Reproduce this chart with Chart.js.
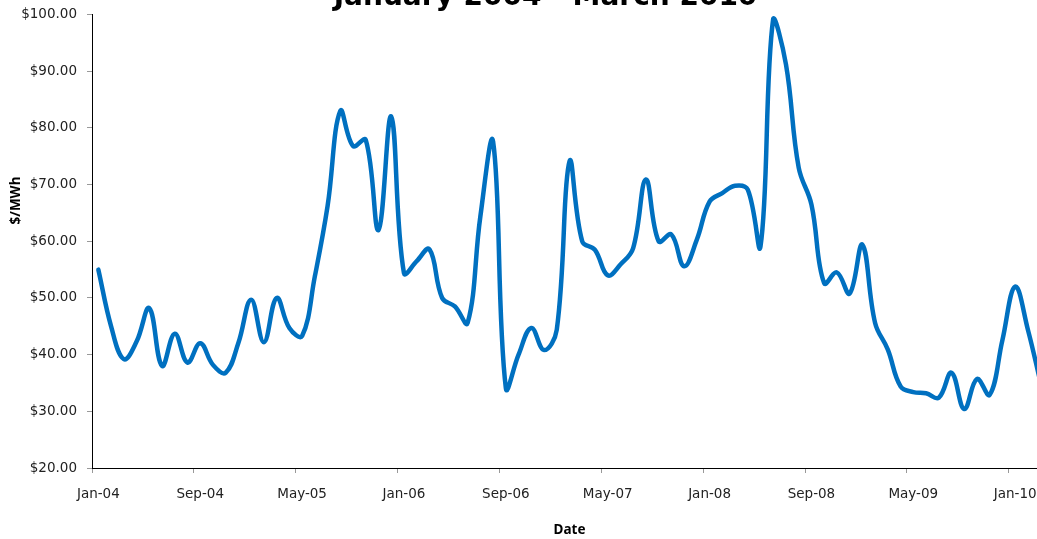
<!DOCTYPE html>
<html>
<head>
<meta charset="utf-8">
<title>Monthly price, January 2004 - March 2010</title>
<script src="https://cdn.jsdelivr.net/npm/chart.js@4/dist/chart.umd.min.js"></script>
<style>
  html, body { margin: 0; padding: 0; background: #fff; overflow: hidden; }
  /* the chart is a bit larger than the window: title runs off the top, last month off the right */
  #wrap { position: absolute; left: 0; top: -19px; width: 1091px; height: 559px; }
</style>
</head>
<body>
<div id="wrap"><canvas id="priceChart"></canvas></div>
<script>
// months on the x axis
const months = [
  'Jan-04', 'Feb-04', 'Mar-04', 'Apr-04', 'May-04', 'Jun-04', 'Jul-04', 'Aug-04', 'Sep-04', 'Oct-04', 'Nov-04', 'Dec-04',
  'Jan-05', 'Feb-05', 'Mar-05', 'Apr-05', 'May-05', 'Jun-05', 'Jul-05', 'Aug-05', 'Sep-05', 'Oct-05', 'Nov-05', 'Dec-05',
  'Jan-06', 'Feb-06', 'Mar-06', 'Apr-06', 'May-06', 'Jun-06', 'Jul-06', 'Aug-06', 'Sep-06', 'Oct-06', 'Nov-06', 'Dec-06',
  'Jan-07', 'Feb-07', 'Mar-07', 'Apr-07', 'May-07', 'Jun-07', 'Jul-07', 'Aug-07', 'Sep-07', 'Oct-07', 'Nov-07', 'Dec-07',
  'Jan-08', 'Feb-08', 'Mar-08', 'Apr-08', 'May-08', 'Jun-08', 'Jul-08', 'Aug-08', 'Sep-08', 'Oct-08', 'Nov-08', 'Dec-08',
  'Jan-09', 'Feb-09', 'Mar-09', 'Apr-09', 'May-09', 'Jun-09', 'Jul-09', 'Aug-09', 'Sep-09', 'Oct-09', 'Nov-09', 'Dec-09',
  'Jan-10', 'Feb-10', 'Mar-10'
];

// average price, $/MWh
const prices = [
  55.0, 45.0, 39.2, 42.3, 48.2, 38.0, 43.7, 38.6, 42.0, 38.2, 36.8, 42.1,
  49.7, 42.2, 50.0, 44.7, 43.3, 53.8, 66.2, 83.0, 76.8, 77.9, 62.0, 82.0,
  54.4, 56.5, 58.6, 50.0, 48.5, 45.6, 64.4, 77.6, 34.1, 40.0, 44.7, 40.8,
  44.4, 74.1, 60.0, 58.5, 54.0, 55.9, 58.8, 70.9, 60.0, 61.2, 55.6, 60.3,
  67.0, 68.5, 69.8, 69.1, 59.1, 99.3, 91.2, 73.0, 66.5, 52.6, 54.5, 50.8,
  59.4, 45.6, 40.9, 34.4, 33.4, 33.2, 32.4, 36.8, 30.4, 35.7, 32.9, 42.6,
  52.0, 44.4, 35.0
];

// y axis range and a month label every 8 months
const yTicks = { min: 20, max: 100, step: 10 };
const labelEvery = 8;

const chartTitle = 'January 2004 - March 2010';
const xTitle = 'Date';
const yTitle = '$/MWh';

const tickFont = { family: 'DejaVu Sans', size: 13.5 };
const titleFont = { family: 'Noto Sans', size: 13.5, weight: 'bold' };

// y axis title sits a little above the middle of the plot
const yTitlePlugin = {
  id: 'yTitle',
  afterDraw(chart) {
    const { ctx, chartArea } = chart;
    ctx.save();
    ctx.translate(16, chartArea.top + (chartArea.bottom - chartArea.top) * 0.41);
    ctx.rotate(-Math.PI / 2);
    ctx.font = 'bold 13.5px "Noto Sans"';
    ctx.fillStyle = '#000';
    ctx.textAlign = 'center';
    ctx.textBaseline = 'middle';
    ctx.fillText(yTitle, 0, 0);
    ctx.restore();
  }
};

const ctx = document.getElementById('priceChart').getContext('2d');
new Chart(ctx, {
  type: 'line',
  data: {
    labels: months,
    datasets: [{
      data: prices,
      borderColor: '#0070C0',
      borderWidth: 4.5,
      borderCapStyle: 'round',
      borderJoinStyle: 'round',
      pointRadius: 0,
      tension: 0.4,
      fill: false
    }]
  },
  options: {
    responsive: true,
    maintainAspectRatio: false,
    animation: false,
    layout: { padding: 0 },
    plugins: {
      legend: { display: false },
      tooltip: { enabled: false },
      title: {
        display: true,
        text: chartTitle,
        color: '#000',
        font: { family: 'DejaVu Sans', size: 28, weight: 'bold' },
        padding: { top: 0, bottom: 0 }
      }
    },
    scales: {
      x: {
        type: 'category',
        offset: true,
        grid: {
          offset: true,
          drawOnChartArea: false,
          tickLength: 5,
          color: c => (c.index % labelEvery === 0 ? '#999' : 'transparent')
        },
        border: { display: true, color: '#000', width: 1 },
        ticks: {
          autoSkip: false,
          maxRotation: 0,
          minRotation: 0,
          padding: 13,
          color: '#222',
          font: tickFont,
          callback: function (value, index) {
            return index % labelEvery === 0 ? this.getLabelForValue(value) : '';
          }
        },
        title: {
          display: true,
          text: xTitle,
          color: '#000',
          font: titleFont,
          padding: { top: 0, bottom: 2 }
        },
        afterFit(scale) { scale.height = 72; }
      },
      y: {
        min: yTicks.min,
        max: yTicks.max,
        grid: { drawOnChartArea: false, tickLength: 5, color: '#999' },
        border: { display: true, color: '#000', width: 1 },
        ticks: {
          stepSize: yTicks.step,
          padding: 10,
          color: '#222',
          font: tickFont,
          callback: v => '$' + v.toFixed(2)
        },
        afterFit(scale) { scale.width = 92; }
      },
      // empty strip on the right so the plot stops short of the canvas edge
      spacer: {
        position: 'right',
        grid: { display: false },
        border: { display: false },
        ticks: { display: false },
        afterFit(scale) { scale.width = 44; }
      }
    }
  },
  plugins: [yTitlePlugin]
});
</script>
</body>
</html>
